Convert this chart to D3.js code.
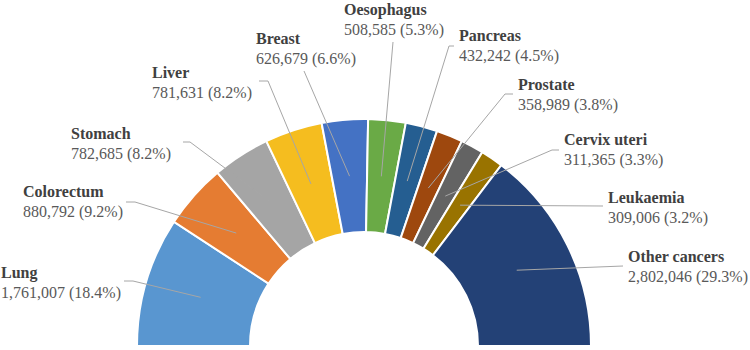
<!DOCTYPE html>
<html>
<head>
<meta charset="utf-8">
<script src="https://cdn.jsdelivr.net/npm/d3@7"></script>
<style>
  body { margin: 0; background: #fff; }
  svg { display: block; }
  .name { font-weight: bold; fill: #404040; }
  .val { fill: #595959; }
</style>
</head>
<body>
<div id="chart"></div>
<script>
// cancer deaths by site
var sites = ["Lung", "Colorectum", "Stomach", "Liver", "Breast", "Oesophagus",
             "Pancreas", "Prostate", "Cervix uteri", "Leukaemia", "Other cancers"];
var deaths = [1761007, 880792, 782685, 781631, 626679, 508585,
              432242, 358989, 311365, 309006, 2802046];
var colors = ["#5996d0", "#e57c32", "#a5a5a5", "#f5bd1f", "#4472c4", "#6aaa46",
              "#255e91", "#9e480e", "#636363", "#997300", "#234176"];

// label placement (text origin + leader start/bend), same order as sites
var labelLayout = [
    {x: 1,   y: 278, lead: [[124, 281], [133, 281]]},
    {x: 23,  y: 197, lead: [[126, 202], [135, 202]]},
    {x: 71,  y: 139, lead: [[183, 142], [190, 142]]},
    {x: 152, y: 78,  lead: [[259, 81], [268, 81]]},
    {x: 256, y: 44,  lead: [[304, 71]]},
    {x: 344, y: 15,  lead: [[393, 42]]},
    {x: 459, y: 41,  lead: [[454, 46], [449, 46]]},
    {x: 518, y: 90,  lead: [[513, 94], [505, 94]]},
    {x: 564, y: 145, lead: [[559, 150], [552, 150]]},
    {x: 608, y: 203, lead: [[603, 206]]},
    {x: 628, y: 262, lead: [[623, 266]]}
];

var width = 750, height = 350,
    cx = 364, cy = 346,
    outerR = 227, innerR = 114;

var serif = "'Liberation Serif', 'DejaVu Serif', serif";

var total = d3.sum(deaths);
var fmt = d3.format(",");

var data = sites.map(function (s, i) {
    return {name: s, value: deaths[i], color: colors[i], layout: labelLayout[i]};
});

var pie = d3.pie()
    .sort(null)
    .value(function (d) { return d.value; })
    .startAngle(-Math.PI / 2)
    .endAngle(Math.PI / 2);

var arc = d3.arc().innerRadius(innerR).outerRadius(outerR);

var svg = d3.select("#chart").append("svg")
    .attr("width", width)
    .attr("height", height);

var g = svg.append("g")
    .attr("transform", "translate(" + cx + "," + cy + ")");

var arcs = pie(data);

g.selectAll("path.slice")
    .data(arcs)
    .enter().append("path")
    .attr("class", "slice")
    .attr("d", arc)
    .attr("fill", function (d) { return d.data.color; })
    .attr("stroke", "#fff")
    .attr("stroke-width", 2);

// leader lines
var line = d3.line();
svg.selectAll("path.leader")
    .data(arcs)
    .enter().append("path")
    .attr("class", "leader")
    .attr("fill", "none")
    .attr("stroke", "#a6a6a6")
    .attr("stroke-width", 1)
    .attr("d", function (d) {
        var c = arc.centroid(d);
        var pts = d.data.layout.lead.slice();
        pts.push([c[0] + cx, c[1] + cy]);
        return line(pts);
    });

// labels
var labels = svg.selectAll("g.label")
    .data(arcs)
    .enter().append("g")
    .attr("class", "label")
    .attr("font-family", serif)
    .attr("font-size", 16)
    .attr("transform", function (d) {
        return "translate(" + d.data.layout.x + "," + d.data.layout.y + ")";
    });

labels.append("text")
    .attr("class", "name")
    .text(function (d) { return d.data.name; });

labels.append("text")
    .attr("class", "val")
    .attr("y", 20)
    .text(function (d) {
        return fmt(d.data.value) + " (" + (d.data.value / total * 100).toFixed(1) + "%)";
    });
</script>
</body>
</html>
